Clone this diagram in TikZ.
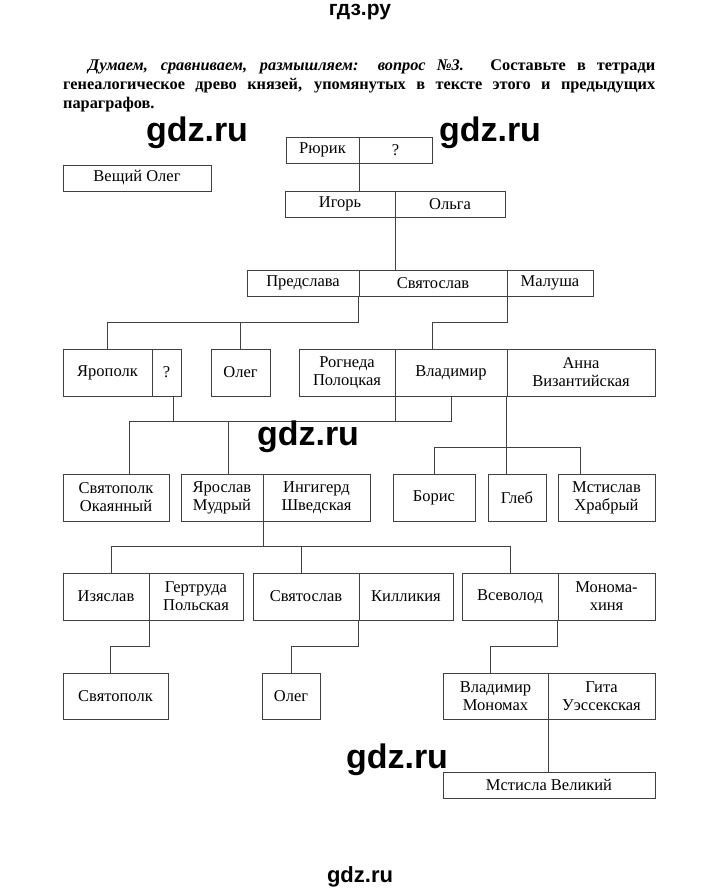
\documentclass[tikz,border=0pt]{standalone}
\usepackage{fontspec}
\setmainfont{Liberation Serif}
\setsansfont{Liberation Sans}
\newcommand{\cell}[6]{\node[cell, minimum width={(#3-#2)*1pt}, minimum height={(#5-#4)*1pt}] (#1) at ({(#2+#3)/2},{(#4+#5)/2}) {#6};}
\begin{document}
\begin{tikzpicture}[x=1pt,y=-1pt]
  \tikzset{cell/.style={rectangle, draw=black!75, line width=0.8pt, inner sep=0pt, align=center, font=\fontsize{16.5}{18}\selectfont},
    link/.style={draw=black!75, line width=0.8pt},
    wmark/.style={font=\sffamily\bfseries\fontsize{34}{34}\selectfont}}
  \useasboundingbox (0,0) rectangle (720,892);

  \node (head) [font=\sffamily\bfseries\fontsize{21}{21}\selectfont] at (360,12) {гдз.ру};
  \node (task) [anchor=north west, text width=592pt, align=justify, inner sep=0pt, font=\bfseries\fontsize{16.3}{19}\selectfont] at (63,60)
    {\hspace*{25pt}\textit{Думаем, сравниваем, размышляем: вопрос №3.} Составьте в тетради генеалогическое древо князей, упомянутых в тексте этого и предыдущих параграфов.};

  \cell{rurik}{286}{359}{137}{163}{Рюрик}
  \cell{rq}{359}{432}{137}{163}{?}
  \cell{veshch}{63}{211}{165}{191}{Вещий Олег}
  \cell{igor}{285}{395}{191}{217}{Игорь}
  \cell{olga}{395}{505}{191}{217}{Ольга}
  \cell{predslava}{247}{359}{270}{296}{Предслава}
  \cell{svyat}{359}{507}{270}{296}{Святослав}
  \cell{malusha}{507}{593}{270}{296}{Малуша}
  \cell{yaropolk}{63}{152}{349}{396}{Ярополк}
  \cell{yq}{152}{181}{349}{396}{?}
  \cell{oleg1}{211}{270}{349}{396}{Олег}
  \cell{rogneda}{299}{395}{349}{396}{Рогнеда\\Полоцкая}
  \cell{vladimir}{395}{507}{349}{396}{Владимир}
  \cell{anna}{507}{655}{349}{396}{Анна\\Византийская}
  \cell{svpk1}{63}{169}{474}{521}{Святополк\\Окаянный}
  \cell{yaroslav}{181}{263}{474}{521}{Ярослав\\Мудрый}
  \cell{ingigerd}{263}{370}{474}{521}{Ингигерд\\Шведская}
  \cell{boris}{393}{475}{474}{521}{Борис}
  \cell{gleb}{488}{546}{474}{521}{Глеб}
  \cell{mstislav}{558}{655}{474}{521}{Мстислав\\Храбрый}
  \cell{izyaslav}{63}{149}{573}{620}{Изяслав}
  \cell{gertruda}{149}{243}{573}{620}{Гертруда\\Польская}
  \cell{svyat2}{253}{359}{573}{620}{Святослав}
  \cell{killikia}{359}{453}{573}{620}{Килликия}
  \cell{vsevolod}{462}{558}{573}{620}{Всеволод}
  \cell{monom}{558}{655}{573}{620}{Монома-\\хиня}
  \cell{svpk2}{63}{168}{673}{719}{Святополк}
  \cell{oleg2}{262}{320}{673}{719}{Олег}
  \cell{vmon}{443}{548}{673}{719}{Владимир\\Мономах}
  \cell{gita}{548}{655}{673}{719}{Гита\\Уэссекская}
  \cell{mvel}{443}{655}{772}{798}{Мстисла Великий}

  \draw [link] (rurik.south east) -- (rurik.south east |- igor.north);
  \draw [link] (igor.south east) -- (igor.south east |- svyat.north);
  \draw [link] (svyat.south west) -- ++(0,26) -| (yaropolk.north);
  \draw [link] (oleg1.north) -- ++(0,-27);
  \draw [link] (svyat.south east) -- ++(0,26) -| ([xshift=-19pt]vladimir.north);
  \draw [link] ([xshift=13pt]svpk1.north) -- ++(0,-52) -| (vladimir.south);
  \draw [link] ([xshift=7pt]yq.south) -- ++(0,26);
  \draw [link] (rogneda.south east) -- ++(0,26);
  \draw [link] ([xshift=6pt]yaroslav.north) -- ++(0,-52);
  \draw [link] (anna.south west) -- (anna.south west |- gleb.north);
  \draw [link] (boris.north) -- ++(0,-26) -| ([xshift=-26pt]mstislav.north);
  \draw [link] (yaroslav.south east) -- ++(0,26);
  \draw [link] ([xshift=5pt]izyaslav.north) -- ++(0,-26) -| (vsevolod.north);
  \draw [link] ([xshift=-5pt]svyat2.north) -- ++(0,-26);
  \draw [link] (izyaslav.south east) -- ++(0,26) -| ([xshift=-5pt]svpk2.north);
  \draw [link] (killikia.south west) -- ++(0,26) -| (oleg2.north);
  \draw [link] (monom.south west) -- ++(0,26) -| ([xshift=-5pt]vmon.north);
  \draw [link] (vmon.south east) -- (vmon.south east |- mvel.north);

  % watermarks
  \node (wm1) [wmark] at (197,133) {gdz.ru};
  \node (wm2) [wmark] at (490,133) {gdz.ru};
  \node (wm3) [wmark] at (308,437) {gdz.ru};
  \node (wm4) [wmark] at (397,760) {gdz.ru};
  \node (foot) [font=\sffamily\bfseries\fontsize{22}{22}\selectfont] at (360,877) {gdz.ru};
\end{tikzpicture}
\end{document}
